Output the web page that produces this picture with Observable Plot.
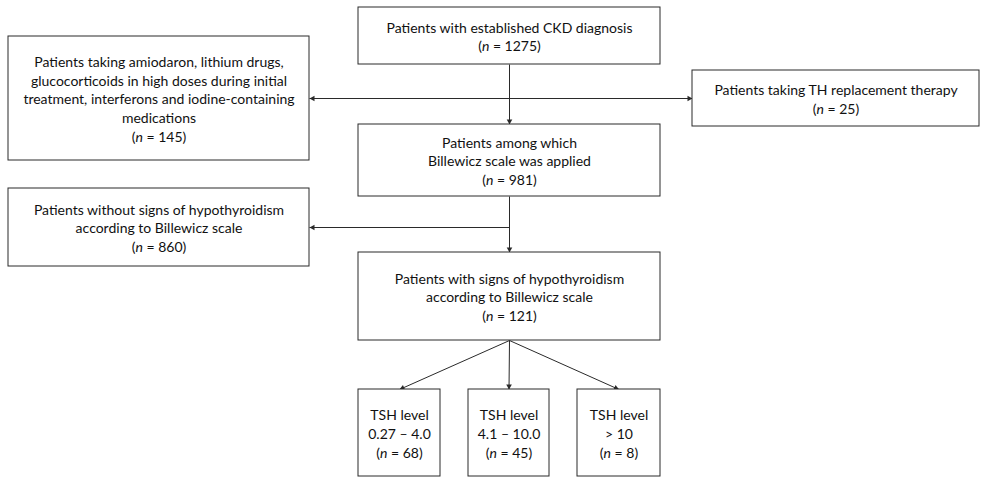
<!DOCTYPE html>
<html><head><meta charset="utf-8">
<script src="https://cdn.jsdelivr.net/npm/d3@7"></script>
<script src="https://cdn.jsdelivr.net/npm/@observablehq/plot@0.6"></script>
<style>html,body{margin:0;padding:0;background:#fff;} svg{display:block}</style>
</head><body><div id="chart"></div>
<script>
// ---- data ----
const nodeLabels = [
  "Patients with established CKD diagnosis",
  "Patients taking amiodaron, lithium drugs,\nglucocorticoids in high doses during initial\ntreatment, interferons and iodine-containing\nmedications",
  "Patients taking TH replacement therapy",
  "Patients among which\nBillewicz scale was applied",
  "Patients without signs of hypothyroidism\naccording to Billewicz scale",
  "Patients with signs of hypothyroidism\naccording to Billewicz scale",
  "TSH level\n0.27 – 4.0",
  "TSH level\n4.1 – 10.0",
  "TSH level\n> 10"
];
const nodeCounts = [1275, 145, 25, 981, 860, 121, 68, 45, 8];
// flow edges: [from node, to node]
const edgeFrom = [0, 0, 0, 3, 3, 5, 5, 5];
const edgeTo   = [3, 1, 2, 5, 4, 6, 7, 8];

// ---- layout (positions in chart units) ----
const boxX1 = [358, 8, 692, 358, 8, 358, 358, 468, 577];
const boxX2 = [660, 309, 979, 660, 309, 660, 440, 549, 660];
const boxY1 = [7, 36, 70, 124, 188, 252, 389, 389, 389];
const boxY2 = [64, 160, 126, 196, 266, 340, 476, 476, 476];

const nodes = nodeLabels.map((label, i) => ({
  text: `${label}\n(n = ${nodeCounts[i]})`,
  x1: boxX1[i], x2: boxX2[i], y1: boxY1[i], y2: boxY2[i],
  cx: (boxX1[i] + boxX2[i]) / 2, cy: (boxY1[i] + boxY2[i]) / 2
}));

// edge geometry derived from node layout
const edges = edgeFrom.map((f, k) => {
  const a = nodes[f], b = nodes[edgeTo[k]];
  if (b.x2 <= a.x1) {           // target to the left: leave from spine at target's mid height
    return {x1: a.cx, y1: b.cy, x2: b.x2, y2: b.cy};
  } else if (b.x1 >= a.x2) {    // target to the right
    return {x1: a.cx, y1: b.cy, x2: b.x1, y2: b.cy};
  } else {                      // target below
    return {x1: a.cx, y1: a.y2, x2: b.cx, y2: b.y1};
  }
});
// plain trunk segment from CKD box down to split point (drawn by the first edge already)

function arrowHead(color) {
  return d3.create("svg:marker")
    .attr("viewBox", "-6 -4 7 8")
    .attr("markerWidth", 7).attr("markerHeight", 8)
    .attr("markerUnits", "userSpaceOnUse")
    .attr("orient", "auto")
    .attr("fill", color).attr("stroke", "none")
    .call(m => m.append("path").attr("d", "M-5,-2.8L0,0L-5,2.8Z"))
    .node();
}

const font = "Lato, 'Open Sans', sans-serif";
const ink = "#2a2a2a";

const chart = Plot.plot({
  width: 981, height: 478,
  margin: 0,
  x: {domain: [0, 981], range: [0, 981], axis: null},
  y: {domain: [0, 478], range: [0, 478], axis: null},
  marks: [
    Plot.link(edges, {x1: "x1", y1: "y1", x2: "x2", y2: "y2", stroke: ink, strokeWidth: 1, markerEnd: arrowHead}),
    Plot.rect(nodes, {x1: "x1", x2: "x2", y1: "y1", y2: "y2", fill: "white", stroke: ink, strokeWidth: 1}),
    Plot.text(nodes, {x: "cx", y: "cy", text: "text", fontFamily: font, fontSize: 14, lineHeight: 1.33, fill: "#111", lineAnchor: "middle", textAnchor: "middle"})
  ]
});

// italicise the "n" in count lines
d3.select(chart).selectAll("tspan, text").each(function() {
  if (this.children.length) return;
  const m = /^\(n = (.*)\)$/.exec(this.textContent);
  if (!m) return;
  const sel = d3.select(this);
  sel.text(null);
  sel.append("tspan").text("(");
  sel.append("tspan").attr("font-style", "italic").text("n");
  sel.append("tspan").text(` = ${m[1]})`);
});

document.getElementById("chart").append(chart);
</script>
</body></html>
